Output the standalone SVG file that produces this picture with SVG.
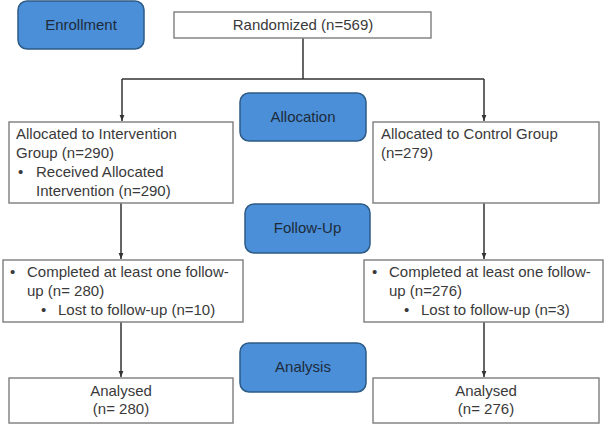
<svg xmlns="http://www.w3.org/2000/svg" width="606" height="424" viewBox="0 0 606 424">
<style>
  .stage rect { fill: #4a8fd8; stroke: #2d5b86; stroke-width: 1.5; }
  .stage text { font-family: "Liberation Sans", Arial, sans-serif; font-size: 15px; fill: #1e2b3a; text-anchor: middle; }
  .box rect { fill: #ffffff; stroke: #858585; stroke-width: 1.5; }
  .box text { font-family: "Liberation Sans", Arial, sans-serif; font-size: 15px; fill: #3a3a3a; }
  .c { text-anchor: middle; }
  .conn { stroke: #333333; stroke-width: 1.5; fill: none; }
</style>
<defs>
  <marker id="arr" viewBox="0 0 10 10" refX="10" refY="5" markerWidth="6" markerHeight="6" orient="auto" markerUnits="userSpaceOnUse">
    <path d="M0,1 L10,5 L0,9 z" fill="#333333"/>
  </marker>
</defs>

<g id="connectors">
  <path class="conn" d="M303,38 V79"/>
  <path class="conn" d="M122,79 H484"/>
  <path class="conn" d="M122,79 V121" marker-end="url(#arr)"/>
  <path class="conn" d="M484,79 V121" marker-end="url(#arr)"/>
  <path class="conn" d="M121,203 V259" marker-end="url(#arr)"/>
  <path class="conn" d="M484,203 V259" marker-end="url(#arr)"/>
  <path class="conn" d="M121,322 V377" marker-end="url(#arr)"/>
  <path class="conn" d="M484,322 V377" marker-end="url(#arr)"/>
</g>

<g id="enrollment" class="stage">
  <rect x="18" y="1" width="126" height="48" rx="9"/>
  <text x="81" y="30">Enrollment</text>
</g>
<g id="allocation" class="stage">
  <rect x="240" y="93" width="126" height="48" rx="9"/>
  <text x="303" y="122">Allocation</text>
</g>
<g id="followup" class="stage">
  <rect x="245" y="204" width="125" height="49" rx="9"/>
  <text x="307.5" y="233">Follow-Up</text>
</g>
<g id="analysis" class="stage">
  <rect x="240" y="343" width="126" height="49" rx="9"/>
  <text x="303" y="372">Analysis</text>
</g>

<g id="randomized" class="box">
  <rect x="174" y="12" width="257" height="26"/>
  <text class="c" x="303" y="30">Randomized (n=569)</text>
</g>

<g id="intervention" class="box">
  <rect x="9" y="122" width="224" height="81"/>
  <text x="16" y="139">Allocated to Intervention</text>
  <text x="16" y="158">Group (n=290)</text>
  <text x="18" y="177">•</text>
  <text x="36" y="177">Received Allocated</text>
  <text x="36" y="196">Intervention (n=290)</text>
</g>

<g id="control" class="box">
  <rect x="373" y="122" width="226" height="81"/>
  <text x="381" y="139">Allocated to Control Group</text>
  <text x="381" y="158">(n=279)</text>
</g>

<g id="followup-intervention" class="box">
  <rect x="3" y="260" width="240" height="62"/>
  <text x="10" y="277">•</text>
  <text x="27" y="277">Completed at least one follow-</text>
  <text x="27" y="296">up (n= 280)</text>
  <text x="41" y="315">•</text>
  <text x="58" y="315">Lost to follow-up (n=10)</text>
</g>

<g id="followup-control" class="box">
  <rect x="364" y="260" width="239" height="62"/>
  <text x="372" y="277">•</text>
  <text x="389" y="277">Completed at least one follow-</text>
  <text x="389" y="296">up (n=276)</text>
  <text x="404" y="315">•</text>
  <text x="421" y="315">Lost to follow-up (n=3)</text>
</g>

<g id="analysed-intervention" class="box">
  <rect x="9" y="378" width="224" height="45"/>
  <text class="c" x="121" y="396">Analysed</text>
  <text class="c" x="121" y="414">(n= 280)</text>
</g>

<g id="analysed-control" class="box">
  <rect x="373" y="378" width="226" height="45"/>
  <text class="c" x="486" y="396">Analysed</text>
  <text class="c" x="486" y="414">(n= 276)</text>
</g>
</svg>
